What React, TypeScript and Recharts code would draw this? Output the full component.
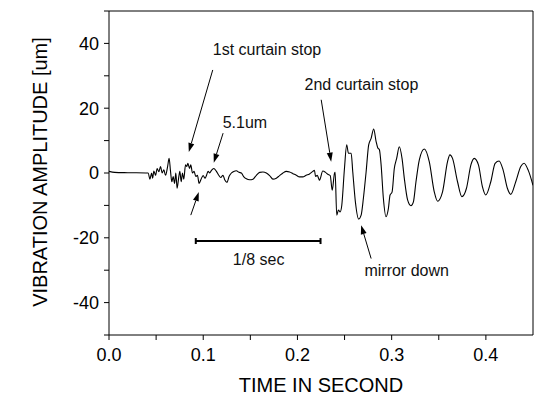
import React from "react";
import {
  LineChart,
  Line,
  XAxis,
  YAxis,
  ReferenceLine,
  ReferenceDot,
} from "recharts";

// ─── Data ─────────────────────────────────────────────────────────────────────

const timeS = [
  0, 0.006, 0.02, 0.0416, 0.0434, 0.0452, 0.0463, 0.0476, 0.0494, 0.0511, 0.0529,
  0.0547, 0.0564, 0.0582, 0.06, 0.0622, 0.0638, 0.0653, 0.0667, 0.0681, 0.0696,
  0.0709, 0.0723, 0.0741, 0.0752, 0.0766, 0.078, 0.0794, 0.0812, 0.0826, 0.0837,
  0.0855, 0.0868, 0.0886, 0.0903, 0.0921, 0.0939, 0.0956, 0.0977, 0.0999, 0.102,
  0.1035, 0.1051, 0.1069, 0.1087, 0.1112, 0.114, 0.1165, 0.1186, 0.121, 0.1228,
  0.1253, 0.1274, 0.1299, 0.1324, 0.1352, 0.138, 0.1405, 0.1429, 0.1458, 0.1493,
  0.1528, 0.1564, 0.1599, 0.1634, 0.167, 0.1705, 0.174, 0.1776, 0.1811, 0.1846,
  0.1882, 0.1917, 0.1952, 0.1988, 0.2022, 0.2057, 0.2093, 0.2128, 0.2163, 0.2181,
  0.2192, 0.221, 0.2224, 0.2234, 0.2269, 0.2298, 0.2322, 0.2348, 0.2369, 0.2393,
  0.24, 0.2417, 0.2435, 0.2453, 0.247, 0.2499, 0.2523, 0.2541, 0.257, 0.2587,
  0.2615, 0.265, 0.2676, 0.27, 0.2729, 0.2756, 0.2782, 0.2809, 0.2835, 0.2852,
  0.287, 0.2888, 0.2912, 0.294, 0.2965, 0.2983, 0.3004, 0.3028, 0.3053, 0.3081,
  0.311, 0.3134, 0.3169, 0.3205, 0.323, 0.3258, 0.3293, 0.3346, 0.3399, 0.3452,
  0.3487, 0.354, 0.3593, 0.3618, 0.3646, 0.3699, 0.3745, 0.3794, 0.3841, 0.3876,
  0.3921, 0.3963, 0.3999, 0.4052, 0.4098, 0.414, 0.4183, 0.4228, 0.4264, 0.4317,
  0.437, 0.4405, 0.445, 0.45,
];

const amplitudeUm = [
  0.5, 0.2, 0.1, 0, -1.9, 0, -1.6, 0.6, -0.7, 1.4, 0.4,
  2.0, 0, 1.0, -0.7, 2.0, 4.5, 0.5, -2.7, -1.1, -3.2,
  0, -4.7, -1.1, 0.5, -2.7, 0, -1.9, 2.5, 2.0, 3.0,
  1.4, 2.5, 0, 0.5, -1.1, -0.7, -3.2, -1.9, -0.8, -1.6,
  -0.7, 0.5, 0, 0.8, 1.4, 0.5, -0.7, -1.4, -0.7, -2.1,
  -2.9, -1.1, 0, 0.5, 0.7, 0.2, 0, -1.1, -1.8, -2.1,
  -1.9, -0.7, 0.2, 0.3, 0, -0.8, -1.9, -1.6, -0.8, 0,
  0.5, 0.3, -0.2, -0.7, -1.2, -1.2, -0.7, -0.3, 0.5, 0.8,
  -1.1, -0.7, -1.6, -2.2, 0.6, 0.2, -0.4, -0.8, -5.3, -0.1,
  0.2, -13, -11.4, -12, -10.1, 1.4, 8.7, 6.1, 6.1, 0.4,
  -8.9, -14.2, -13, -7.8, 0.4, 8.7, 10.7, 13.6, 9.7, 7.8,
  7.2, 2.5, -7.8, -13.5, -11, -6.8, -5.9, 1.4, 4.5, 8.1,
  4.5, -1.6, -8.3, -10.1, -9, -2.7, 4, 7.4, 3.5, -5.8,
  -8.7, -5.8, 3.5, 5.6, 4.5, -2.7, -7.3, -4.7, 2.5, 4.5,
  2.5, -4.2, -6.8, -2.7, 3.0, 3.7, 0.9, -4.7, -6.6, -2.7,
  2.0, 3.0, 0.8, -3.8,
];

const xTicks = [0, 0.05, 0.1, 0.15, 0.2, 0.25, 0.3, 0.35, 0.4];
const xLabelled = [0, 0.1, 0.2, 0.3, 0.4];
const yTicks = [-50, -40, -30, -20, -10, 0, 10, 20, 30, 40, 50];
const yLabelled = [-40, -20, 0, 20, 40];

// annotation arrows: [tailT, tailV, tipT, tipV]
const arrows = [
  [0.1101, 31.8, 0.0847, 6.5],
  [0.1211, 12.3, 0.1112, 3.2],
  [0.0868, -13, 0.0953, -5.9],
  [0.2252, 22.6, 0.2358, 3.5],
  [0.2782, -26.4, 0.2676, -16.1],
];

const notes = [
  { t: 0.1101, v: 38.3, text: "1st curtain stop", anchor: "start" },
  { t: 0.1207, v: 15.6, text: "5.1um", anchor: "start" },
  { t: 0.2075, v: 27.5, text: "2nd curtain stop", anchor: "start" },
  { t: 0.1588, v: -26.6, text: "1/8 sec", anchor: "middle" },
  { t: 0.2711, v: -30, text: "mirror down", anchor: "start" },
];

const scaleBar = { from: 0.0921, to: 0.2245, v: -21 };

const data = timeS.map((t, i) => ({ t, v: amplitudeUm[i] }));

const FONT = "'Liberation Sans', Arial, sans-serif";

// ─── Shapes ───────────────────────────────────────────────────────────────────

// eslint-disable-next-line @typescript-eslint/no-explicit-any
function Arrow(props: any) {
  const { x1, y1, x2, y2 } = props;
  const dx = x2 - x1;
  const dy = y2 - y1;
  const len = Math.sqrt(dx * dx + dy * dy) || 1;
  const ux = dx / len;
  const uy = dy / len;
  const head = 9;
  const half = 3;
  const bx = x2 - ux * head;
  const by = y2 - uy * head;
  return (
    <g>
      <line x1={x1} y1={y1} x2={bx} y2={by} stroke="#000" strokeWidth={1} />
      <polygon
        points={`${x2},${y2} ${bx - uy * half},${by + ux * half} ${bx + uy * half},${by - ux * half}`}
        fill="#000"
      />
    </g>
  );
}

// eslint-disable-next-line @typescript-eslint/no-explicit-any
function Bar(props: any) {
  const { x1, y1, x2, y2 } = props;
  return (
    <g stroke="#000" strokeWidth={2}>
      <line x1={x1} y1={y1} x2={x2} y2={y2} />
      <line x1={x1} y1={y1 - 3} x2={x1} y2={y1 + 3} />
      <line x1={x2} y1={y2 - 3} x2={x2} y2={y2 + 3} />
    </g>
  );
}

// eslint-disable-next-line @typescript-eslint/no-explicit-any
function XTick(props: any) {
  const { x, y, payload } = props;
  if (!xLabelled.some((v) => Math.abs(v - payload.value) < 1e-6)) return null;
  return (
    <text x={x} y={y} dy="0.71em" textAnchor="middle" fontSize={18} fontFamily={FONT} fill="#000">
      {payload.value.toFixed(1)}
    </text>
  );
}

// eslint-disable-next-line @typescript-eslint/no-explicit-any
function YTick(props: any) {
  const { x, y, payload } = props;
  if (!yLabelled.includes(payload.value)) return null;
  return (
    <text x={x} y={y} dy="0.355em" textAnchor="end" fontSize={18} fontFamily={FONT} fill="#000">
      {payload.value}
    </text>
  );
}

// eslint-disable-next-line @typescript-eslint/no-explicit-any
function XTitle(props: any) {
  const { x, y, width } = props.viewBox;
  return (
    <text x={x + width / 2} y={y + 57} textAnchor="middle" fontSize={20} fontFamily={FONT} fill="#000">
      TIME IN SECOND
    </text>
  );
}

// eslint-disable-next-line @typescript-eslint/no-explicit-any
function YTitle(props: any) {
  const { x, y, height } = props.viewBox;
  const cx = x + 46.5;
  const cy = y + height / 2 - 1;
  return (
    <text
      x={cx}
      y={cy}
      transform={`rotate(-90 ${cx} ${cy})`}
      textAnchor="middle"
      fontSize={20}
      fontFamily={FONT}
      fill="#000"
    >
      VIBRATION AMPLITUDE [um]
    </text>
  );
}

// ─── Component ────────────────────────────────────────────────────────────────

export default function App() {
  return (
    <div style={{ position: "absolute", left: 0, top: 0, width: 541, height: 396, background: "#fff" }}>
      <LineChart
        width={541}
        height={396}
        data={data}
        margin={{ top: 11, right: 8, left: 0, bottom: 0 }}
      >
        <XAxis
          dataKey="t"
          type="number"
          domain={[0, 0.45]}
          ticks={xTicks}
          allowDataOverflow
          height={61}
          tickSize={5}
          tickMargin={8}
          tick={<XTick />}
          axisLine={{ stroke: "#000" }}
          tickLine={{ stroke: "#000" }}
          label={<XTitle />}
        />
        <YAxis
          type="number"
          domain={[-50, 50]}
          ticks={yTicks}
          width={109}
          tickSize={5}
          tickMargin={5}
          tick={<YTick />}
          axisLine={{ stroke: "#000" }}
          tickLine={{ stroke: "#000" }}
          label={<YTitle />}
        />
        <ReferenceLine y={50} stroke="#000" />
        <ReferenceLine x={0.45} stroke="#000" />
        <Line
          type="monotone"
          dataKey="v"
          stroke="#000"
          strokeWidth={1.1}
          dot={false}
          isAnimationActive={false}
        />
        {arrows.map((a, i) => (
          <ReferenceLine
            key={`a${i}`}
            segment={[
              { x: a[0], y: a[1] },
              { x: a[2], y: a[3] },
            ]}
            shape={<Arrow />}
          />
        ))}
        <ReferenceLine
          segment={[
            { x: scaleBar.from, y: scaleBar.v },
            { x: scaleBar.to, y: scaleBar.v },
          ]}
          shape={<Bar />}
        />
        {notes.map((n, i) => (
          <ReferenceDot
            key={`n${i}`}
            x={n.t}
            y={n.v}
            r={1}
            // eslint-disable-next-line @typescript-eslint/no-explicit-any
            shape={(p: any) => (
              <text
                x={p.cx}
                y={p.cy}
                dy="0.355em"
                textAnchor={n.anchor}
                fontSize={16}
                fontFamily={FONT}
                fill="#111"
              >
                {n.text}
              </text>
            )}
          />
        ))}
      </LineChart>
    </div>
  );
}
